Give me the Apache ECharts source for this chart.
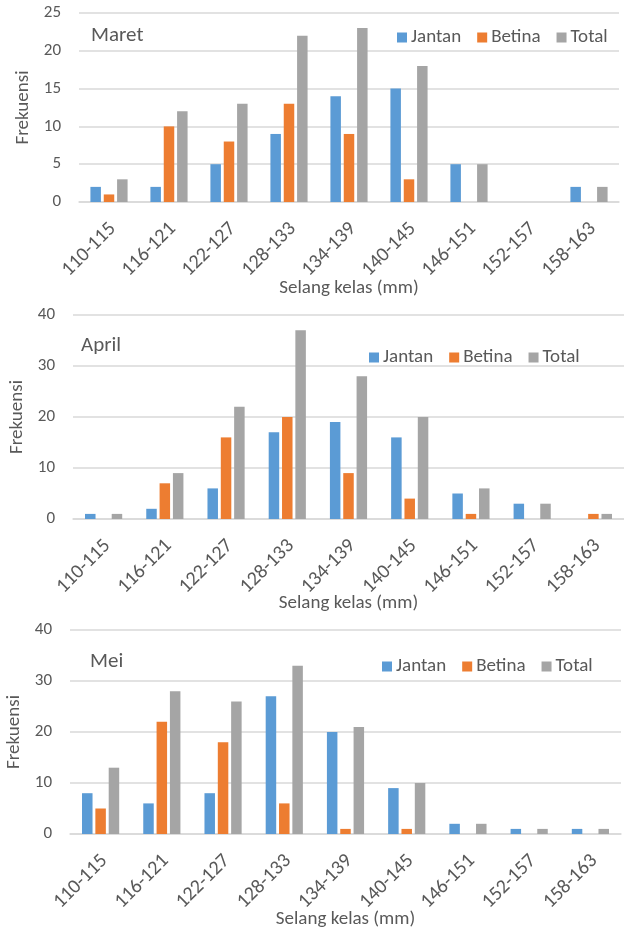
<!DOCTYPE html>
<html>
<head>
    <meta charset="utf-8">
    <script src="https://cdn.jsdelivr.net/npm/echarts@6/dist/echarts.min.js"></script>
    <title>Frekuensi</title>
</head>
<body style="margin:0;background:#fff;">
    <div id="main" style="width:624px;height:928px;"></div>
    <script type="text/javascript">
        var categories = ['110-115', '116-121', '122-127', '128-133', '134-139', '140-145', '146-151', '152-157', '158-163'];
        var seriesNames = ['Jantan', 'Betina', 'Total'];
        var colors = ['#5B9BD5', '#ED7D31', '#A5A5A5'];

        var maretJantan = [2, 2, 5, 9, 14, 15, 5, 0, 2];
        var maretBetina = [1, 10, 8, 13, 9, 3, 0, 0, 0];
        var maretTotal = [3, 12, 13, 22, 23, 18, 5, 0, 2];

        var aprilJantan = [1, 2, 6, 17, 19, 16, 5, 3, 0];
        var aprilBetina = [0, 7, 16, 20, 9, 4, 1, 0, 1];
        var aprilTotal = [1, 9, 22, 37, 28, 20, 6, 3, 1];

        var meiJantan = [8, 6, 8, 27, 20, 9, 2, 1, 1];
        var meiBetina = [5, 22, 18, 6, 1, 1, 0, 0, 0];
        var meiTotal = [13, 28, 26, 33, 21, 10, 2, 1, 1];

        var yMax = [25, 40, 40];
        var yInterval = [5, 10, 10];

        var font = 'Carlito, Lato, "Open Sans", sans-serif';
        var textColor = '#595959';
        var gridColor = '#D9D9D9';

        // layout of each panel
        var panels = [
            { title: 'Maret', data: [maretJantan, maretBetina, maretTotal], grid: { left: 79, right: 5, top: 13, height: 189 }, titlePos: [91, 25], legendPos: [397, 28], nameGap: 77 },
            { title: 'April', data: [aprilJantan, aprilBetina, aprilTotal], grid: { left: 73, right: 0, top: 315, height: 204 }, titlePos: [81, 335], legendPos: [369, 348], nameGap: 75 },
            { title: 'Mei', data: [meiJantan, meiBetina, meiTotal], grid: { left: 70, right: 3, top: 630, height: 204 }, titlePos: [90, 651], legendPos: [382, 657], nameGap: 76 }
        ];

        var option = {
            backgroundColor: '#fff',
            animation: false,
            title: [],
            legend: [],
            grid: [],
            xAxis: [],
            yAxis: [],
            series: []
        };

        panels.forEach(function(p, i) {
            option.title.push({
                text: p.title,
                left: p.titlePos[0],
                top: p.titlePos[1],
                padding: 0,
                textStyle: { fontFamily: font, fontSize: 21, fontWeight: 'normal', color: textColor }
            });
            option.legend.push({
                data: seriesNames,
                left: p.legendPos[0],
                top: p.legendPos[1],
                padding: 0,
                itemWidth: 10,
                itemHeight: 10,
                itemGap: 16,
                icon: 'rect',
                textStyle: { fontFamily: font, fontSize: 19, color: textColor, padding: [0, 0, 0, -1] }
            });
            option.grid.push(Object.assign({ outerBoundsMode: 'none', containLabel: false }, p.grid));
            option.xAxis.push({
                type: 'category',
                gridIndex: i,
                data: categories,
                name: 'Selang kelas (mm)',
                nameLocation: 'middle',
                nameGap: p.nameGap,
                nameMoveOverlap: false,
                nameTextStyle: { fontFamily: font, fontSize: 19, color: textColor },
                axisLine: { lineStyle: { color: gridColor, width: 1.5 } },
                axisTick: { show: false },
                axisLabel: { interval: 0, rotate: 45, margin: 20, verticalAlign: 'top', lineHeight: 11, fontFamily: font, fontSize: 20, color: textColor }
            });
            option.yAxis.push({
                type: 'value',
                gridIndex: i,
                min: 0,
                max: yMax[i],
                interval: yInterval[i],
                name: 'Frekuensi',
                nameLocation: 'middle',
                nameGap: 46,
                nameMoveOverlap: false,
                nameTextStyle: { fontFamily: font, fontSize: 19, color: textColor },
                axisLine: { show: false },
                axisTick: { show: false },
                axisLabel: { margin: 18, fontFamily: font, fontSize: 17, color: textColor },
                splitLine: { lineStyle: { color: gridColor, width: 1.5 } }
            });
            seriesNames.forEach(function(name, k) {
                option.series.push({
                    name: name,
                    type: 'bar',
                    xAxisIndex: i,
                    yAxisIndex: i,
                    data: p.data[k],
                    barWidth: 10.5,
                    barGap: '27%',
                    itemStyle: { color: colors[k] }
                });
            });
        });

        var myChart = echarts.init(document.getElementById('main'));
        myChart.setOption(option);
    </script>
</body>
</html>
